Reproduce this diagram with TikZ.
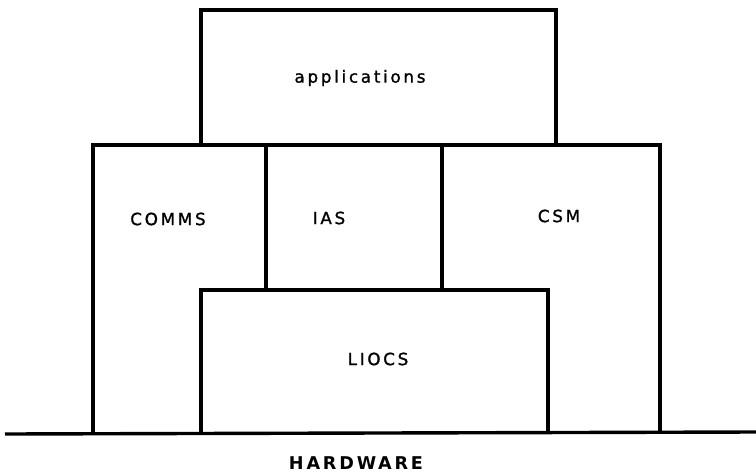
\documentclass[tikz,border=0pt]{standalone}
\usepackage{fontspec}
\setmainfont{DejaVu Sans}[LetterSpace=16]
\newfontfamily\labelfont{DejaVu Sans}[LetterSpace=16, FakeBold=1.2]
\usetikzlibrary{positioning}

\begin{document}
\begin{tikzpicture}[
  x=0.5pt, y=-0.5pt,
  wall/.style={line width=1.7pt, line join=miter},
  layer/.style={font=\labelfont\fontsize{8.4}{10}\selectfont, inner sep=0pt},
  base/.style={font=\fontsize{8.8}{10}\selectfont\bfseries, inner sep=0pt},
]
  \useasboundingbox (0,0) rectangle (756,472);

  % outlines
  \draw[wall] (5,434) -- (756,432);
  \draw[wall] (201,145) rectangle (556,10);
  \draw[wall] (93,433) -- (93,145) -- (660,145) -- (660,432);
  \draw[wall] (266,145) -- (266,290);
  \draw[wall] (442,145) -- (442,290);
  \draw[wall] (201,433) -- (201,290) -- (548,290) -- (548,432);

  % labels
  \node[layer] (apps) at (360,78) {applications};
  \node[layer] (comms) at (168,219) {COMMS};
  \node[layer] (ias) at (329,218) {IAS};
  \node[layer] (csm) at (559,216) {CSM};
  \node[layer] (liocs) at (378,359) {LIOCS};
  \node[base] (hw) at (356,463) {HARDWARE};
\end{tikzpicture}
\end{document}
